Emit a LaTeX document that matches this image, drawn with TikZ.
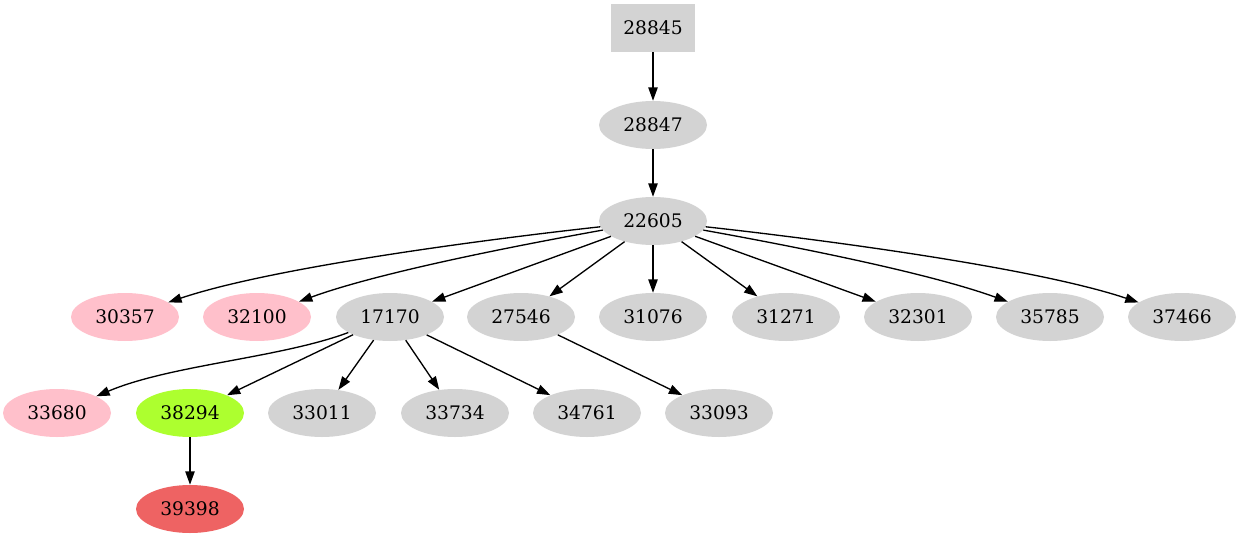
\documentclass[tikz,border=0pt]{standalone}
\usepackage{fontspec}
\setmainfont{DejaVu Serif}
\usetikzlibrary{arrows.meta,shapes.geometric}
\definecolor{lgray}{RGB}{211,211,211}
\definecolor{pinkc}{RGB}{255,192,203}
\definecolor{greenc}{RGB}{173,255,47}
\definecolor{redc}{RGB}{238,99,99}
\tikzset{
  nd/.style={ellipse,fill=lgray,draw=none,minimum width=81pt,minimum height=36pt,inner sep=0pt,font=\fontsize{14pt}{16pt}\selectfont},
  bx/.style={rectangle,fill=lgray,draw=none,minimum width=63pt,minimum height=36pt,inner sep=0pt,font=\fontsize{14pt}{16pt}\selectfont},
  pk/.style={nd,fill=pinkc},
  gr/.style={nd,fill=greenc},
  rd/.style={nd,fill=redc},
  ed/.style={draw=black,line width=1pt,-{Triangle[length=10pt,width=7pt]}}
}
\begin{document}
\begin{tikzpicture}[x=0.75pt,y=-0.75pt]
\useasboundingbox (0,0) rectangle (1241,539);
\node[bx] (n28845) at (653,28) {28845};
\node[nd] (n28847) at (653,125) {28847};
\node[nd] (n22605) at (653,221) {22605};
\node[pk] (n30357) at (125,317) {30357};
\node[pk] (n32100) at (257,317) {32100};
\node[nd] (n17170) at (390,317) {17170};
\node[nd] (n27546) at (521,317) {27546};
\node[nd] (n31076) at (653,317) {31076};
\node[nd] (n31271) at (786,317) {31271};
\node[nd] (n32301) at (918,317) {32301};
\node[nd] (n35785) at (1050,317) {35785};
\node[nd] (n37466) at (1182,317) {37466};
\node[pk] (n33680) at (57,413) {33680};
\node[gr] (n38294) at (190,413) {38294};
\node[nd] (n33011) at (322,413) {33011};
\node[nd] (n33734) at (455,413) {33734};
\node[nd] (n34761) at (587,413) {34761};
\node[nd] (n33093) at (719,413) {33093};
\node[rd] (n39398) at (190,509) {39398};

\draw[ed] (n28845) -- (n28847);
\draw[ed] (n28847) -- (n22605);
\draw[ed] (n22605) .. controls (480,240) and (270,268) .. (n30357);
\draw[ed] (n22605) .. controls (520,245) and (380,272) .. (n32100);
\draw[ed] (n22605) -- (n17170);
\draw[ed] (n22605) -- (n27546);
\draw[ed] (n22605) -- (n31076);
\draw[ed] (n22605) -- (n31271);
\draw[ed] (n22605) -- (n32301);
\draw[ed] (n22605) .. controls (786,245) and (926,272) .. (n35785);
\draw[ed] (n22605) .. controls (826,240) and (1036,268) .. (n37466);
\draw[ed] (n17170) .. controls (280,358) and (170,365) .. (n33680);
\draw[ed] (n17170) -- (n38294);
\draw[ed] (n17170) -- (n33011);
\draw[ed] (n17170) -- (n33734);
\draw[ed] (n17170) -- (n34761);
\draw[ed] (n27546) -- (n33093);
\draw[ed] (n38294) -- (n39398);
\end{tikzpicture}
\end{document}
